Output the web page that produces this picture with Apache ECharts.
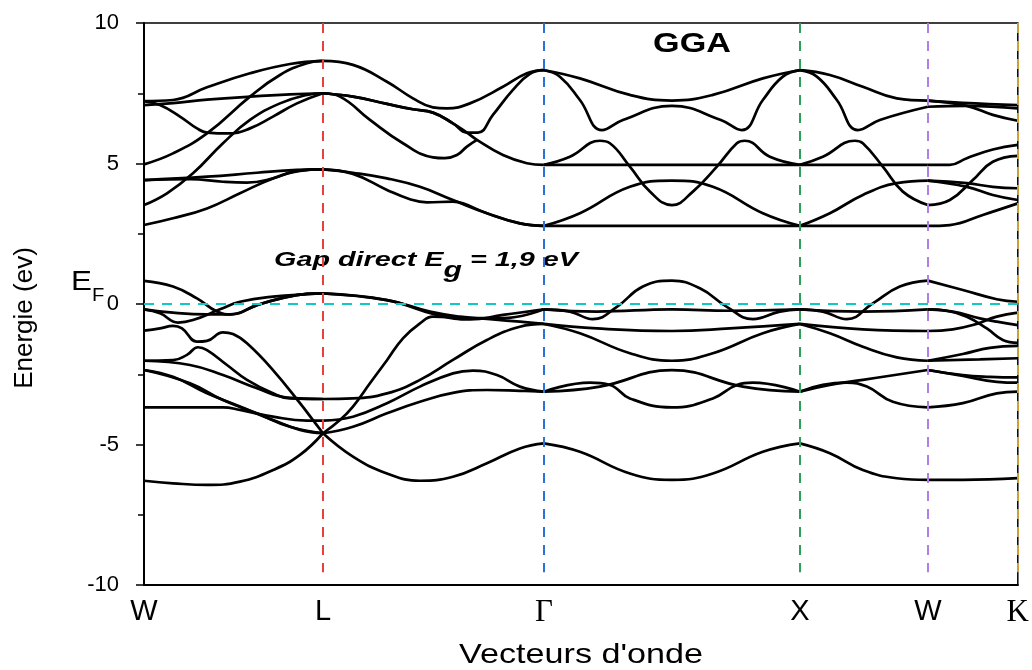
<!DOCTYPE html>
<html>
<head>
<meta charset="utf-8">
<script src="https://cdn.jsdelivr.net/npm/echarts@6/dist/echarts.min.js"></script>
<style>html,body{margin:0;padding:0;background:#fff}#chart{width:1032px;height:670px}</style>
</head>
<body>
<div id="chart"></div>
<script>
// k-path distance (arb. units), high symmetry points
const kTicks = [0, 179, 400, 656, 784, 874];
const kLabels = ['W', 'L', 'Γ', 'X', 'W', 'K'];
const kLineColors = ['#e8403c', '#2a72d8', '#2e9e5b', '#b07fe6', '#c9a13a'];

// conduction bands, segment by segment
const condWL = [
  [[0,7.22],[29,7.26],[63,7.71],[106,8.21],[146,8.54],[179,8.65]],
  [[0,7.08],[29,7.15],[63,7.27],[106,7.38],[146,7.46],[179,7.50]],
  [[0,7.22],[16,7.08],[36,6.67],[53,6.25],[63,6.10],[86,6.07],[106,6.25],[129,6.67],[153,7.14],[179,7.50]],
  [[0,4.97],[29,5.36],[63,6.07],[106,7.38],[136,8.15],[163,8.57],[179,8.65]],
  [[0,3.52],[23,3.94],[49,4.65],[79,5.72],[106,6.55],[136,7.14],[163,7.44],[179,7.50]],
  [[0,4.41],[63,4.53],[113,4.67],[153,4.77],[179,4.79]],
  [[0,4.41],[46,4.44],[79,4.35],[103,4.32],[129,4.47],[153,4.74],[179,4.79]],
  [[0,2.81],[29,3.05],[63,3.40],[96,3.94],[129,4.47],[156,4.74],[179,4.79]]
];
const condLG = [
  [[179,8.65],[209,8.51],[243,7.91],[269,7.32],[289,7.00],[303,6.96],[326,7.14],[359,7.73],[383,8.21],[400,8.32]],
  [[179,7.50],[209,7.38],[243,7.12],[269,6.93],[289,6.81],[309,6.43],[323,6.10],[334,6.10],[349,6.73],[369,7.62],[386,8.19],[400,8.32]],
  [[179,7.50],[209,7.38],[243,7.12],[269,6.93],[289,6.81],[309,6.43],[323,6.10],[333,5.84],[359,5.30],[383,5.01],[400,4.95]],
  [[179,7.50],[196,7.38],[226,6.55],[259,5.72],[289,5.22],[301,5.19],[313,5.30],[323,5.60],[333,5.84]],
  [[179,4.79],[209,4.67],[243,4.47],[276,4.17],[309,3.70],[343,3.23],[376,2.87],[400,2.78]],
  [[179,4.79],[209,4.63],[243,4.06],[266,3.73],[283,3.62],[309,3.64],[319,3.58],[343,3.23],[376,2.87],[400,2.78]]
];
const condGX = [
  [[400,8.32],[436,8.03],[486,7.44],[528,7.24],[569,7.44],[619,8.03],[656,8.32]],
  [[400,8.32],[416,8.09],[436,7.26],[458,6.19],[479,6.55],[528,7.05],[577,6.55],[598,6.19],[619,7.26],[639,8.09],[656,8.32]],
  [[400,4.95],[528,4.95],[656,4.95]],
  [[400,4.95],[426,5.24],[456,5.81],[466,5.72],[486,4.89],[506,4.00],[528,3.52],[549,4.00],[573,4.89],[593,5.72],[601,5.81],[626,5.24],[656,4.95]],
  [[400,2.78],[436,3.23],[486,4.17],[528,4.39],[569,4.17],[619,3.23],[656,2.78]],
  [[400,2.78],[528,2.78],[656,2.78]]
];
const condXW = [
  [[656,8.32],[686,8.15],[719,7.73],[753,7.32],[784,7.24]],
  [[656,8.32],[673,8.09],[693,7.26],[714,6.19],[736,6.55],[784,7.02]],
  [[656,4.95],[784,4.95]],
  [[656,4.95],[679,5.24],[711,5.81],[719,5.72],[739,4.89],[759,4.00],[784,3.52]],
  [[656,2.78],[686,3.23],[719,3.88],[753,4.30],[784,4.39]],
  [[656,2.78],[784,2.78]]
];
const condWK = [
  [[784,7.24],[819,7.16],[874,7.08]],
  [[784,7.24],[823,7.05],[849,6.73],[874,6.52]],
  [[784,7.02],[823,7.05],[874,6.96]],
  [[784,4.95],[806,4.95],[823,5.19],[849,5.50],[874,5.66]],
  [[784,3.52],[806,3.70],[829,4.41],[849,5.06],[874,5.27]],
  [[784,4.39],[823,4.30],[849,4.17],[874,4.12]],
  [[784,4.39],[823,4.17],[849,3.88],[874,3.70]],
  [[784,2.78],[806,2.81],[839,3.17],[874,3.58]]
];

// valence bands
const valWL = [
  [[0,0.82],[29,0.62],[53,0.20],[73,-0.27],[88,-0.37],[113,-0.04],[139,0.22],[163,0.36],[179,0.38]],
  [[0,-0.19],[16,-0.33],[34,-0.66],[49,-0.57],[76,-0.19],[96,0.08],[129,0.26],[179,0.38]],
  [[0,-0.19],[29,-0.31],[63,-0.37],[86,-0.37],[113,-0.04],[139,0.22],[163,0.36],[179,0.38]],
  [[0,-0.95],[16,-0.87],[29,-0.78],[38,-0.87],[53,-1.34],[63,-1.31],[79,-1.01],[89,-1.07],[103,-1.40],[129,-2.35],[156,-3.53],[169,-4.13],[179,-4.60]],
  [[0,-2.02],[29,-2.00],[43,-1.81],[54,-1.54],[63,-1.64],[83,-2.17],[103,-2.70],[129,-3.18],[146,-3.36],[179,-3.38]],
  [[0,-2.02],[46,-2.17],[79,-2.53],[113,-3.00],[143,-3.33],[179,-3.38]],
  [[0,-2.35],[29,-2.59],[63,-3.18],[96,-3.65],[129,-4.13],[156,-4.48],[179,-4.60]],
  [[0,-2.35],[46,-2.82],[79,-3.42],[113,-3.89],[146,-4.37],[179,-4.60]],
  [[0,-3.68],[79,-3.68],[96,-3.77],[129,-4.01],[163,-4.15],[179,-4.15]],
  [[0,-6.29],[29,-6.38],[63,-6.44],[96,-6.32],[129,-5.91],[156,-5.37],[179,-4.60]]
];
const valLG = [
  [[179,0.38],[243,0.14],[293,-0.39],[326,-0.55],[359,-0.39],[400,-0.19]],
  [[179,0.38],[243,0.14],[286,-0.27],[316,-0.45],[349,-0.55],[376,-0.63],[400,-0.71]],
  [[179,-4.60],[196,-4.13],[209,-3.65],[226,-2.82],[243,-2.00],[259,-1.22],[276,-0.69],[289,-0.45],[326,-0.50],[359,-0.50],[400,-0.19]],
  [[179,-3.38],[209,-3.36],[243,-3.18],[276,-2.70],[309,-1.99],[343,-1.28],[376,-0.81],[400,-0.71]],
  [[179,-4.15],[209,-4.01],[243,-3.53],[276,-2.94],[309,-2.47],[329,-2.37],[353,-2.53],[376,-2.94],[400,-3.12]],
  [[179,-4.60],[209,-4.37],[243,-3.89],[276,-3.48],[309,-3.16],[343,-3.06],[376,-3.09],[400,-3.12]],
  [[179,-4.60],[209,-5.43],[243,-6.03],[276,-6.29],[309,-6.15],[343,-5.67],[376,-5.14],[400,-4.96]]
];
const valGX = [
  [[400,-0.19],[426,-0.27],[449,-0.54],[473,-0.10],[499,0.62],[528,0.83],[556,0.56],[583,-0.10],[609,-0.54],[636,-0.27],[656,-0.19]],
  [[400,-0.19],[453,-0.27],[528,-0.19],[586,-0.24],[656,-0.19]],
  [[400,-0.71],[453,-0.87],[528,-0.96],[586,-0.87],[656,-0.71]],
  [[400,-0.71],[436,-1.04],[486,-1.75],[528,-2.02],[569,-1.75],[619,-1.04],[656,-0.71]],
  [[400,-3.12],[456,-2.94],[528,-2.35],[599,-2.94],[656,-3.12]],
  [[400,-3.12],[446,-2.80],[466,-2.88],[486,-3.36],[528,-3.68],[569,-3.36],[593,-2.88],[609,-2.80],[656,-3.12]],
  [[400,-4.96],[436,-5.26],[486,-6.03],[528,-6.26],[569,-6.03],[619,-5.26],[656,-4.96]]
];
const valXW = [
  [[656,-0.19],[679,-0.27],[703,-0.54],[729,0.02],[756,0.62],[784,0.83]],
  [[656,-0.19],[719,-0.27],[784,-0.19]],
  [[656,-0.71],[719,-0.90],[784,-0.96]],
  [[656,-0.71],[686,-1.04],[719,-1.52],[753,-1.90],[784,-2.02]],
  [[656,-3.12],[686,-2.88],[719,-2.70],[784,-2.35]],
  [[656,-3.12],[679,-2.88],[703,-2.80],[723,-2.94],[749,-3.48],[784,-3.68]],
  [[656,-4.96],[686,-5.31],[719,-5.91],[753,-6.20],[784,-6.26]]
];
const valWK = [
  [[784,0.83],[819,0.50],[853,0.17],[874,0.08]],
  [[784,-0.19],[803,-0.24],[823,-0.45],[843,-0.87],[859,-1.28],[874,-1.38]],
  [[784,-0.19],[809,-0.27],[836,-0.51],[853,-0.63],[874,-0.75]],
  [[784,-0.96],[809,-0.90],[829,-0.75],[853,-0.45],[874,-0.31]],
  [[784,-2.02],[819,-1.78],[846,-1.56],[874,-1.49]],
  [[784,-2.02],[836,-1.97],[874,-1.93]],
  [[784,-2.35],[819,-2.53],[846,-2.59],[874,-2.61]],
  [[784,-2.35],[819,-2.56],[853,-2.77],[874,-2.80]],
  [[784,-3.68],[819,-3.53],[853,-3.18],[874,-3.12]],
  [[784,-6.26],[819,-6.26],[874,-6.20]]
];

const chart = echarts.init(document.getElementById('chart'), null, {renderer: 'canvas'});

const series = [];
[condWL, condLG, condGX, condXW, condWK, valWL, valLG, valGX, valXW, valWK].forEach(seg => {
  seg.forEach(band => {
    series.push({
      type: 'line',
      data: band,
      showSymbol: false,
      smooth: 0.45,
      silent: true,
      z: 3,
      lineStyle: {color: '#000', width: 2.7}
    });
  });
});

// dashed guide lines: high symmetry points and Fermi level
const guides = kTicks.slice(1).map((k, i) => ([
  {coord: [k, 10], lineStyle: {color: kLineColors[i]}},
  {coord: [k, -9.55]}
]));
guides.push([
  {coord: [0, 0], lineStyle: {color: '#12c7c7'}},
  {coord: [874, 0]}
]);
series.push({
  type: 'line',
  data: [],
  z: 2,
  markLine: {
    silent: true,
    symbol: ['none', 'none'],
    label: {show: false},
    lineStyle: {type: [10, 8], width: 2},
    data: guides
  }
});

chart.setOption({
  animation: false,
  backgroundColor: '#fff',
  grid: {left: 144, right: 14, top: 23, bottom: 85, show: true, borderColor: '#000', borderWidth: 1.5},
  xAxis: {
    type: 'value',
    min: 0,
    max: 874,
    axisLine: {onZero: false, lineStyle: {color: '#000', width: 2}},
    axisTick: {show: false},
    splitLine: {show: false},
    axisLabel: {
      customValues: kTicks,
      margin: 12,
      color: '#000',
      formatter: v => {
        const t = kLabels[kTicks.indexOf(v)];
        return (t === 'Γ' || t === 'K') ? '{serif|' + t + '}' : '{sans|' + t + '}';
      },
      rich: {
        sans: {fontFamily: 'Liberation Sans', fontSize: 29, color: '#000'},
        serif: {fontFamily: 'Liberation Serif', fontSize: 31, color: '#000'}
      }
    }
  },
  yAxis: {
    type: 'value',
    min: -10,
    max: 10,
    interval: 5,
    axisLine: {show: true, onZero: false, lineStyle: {color: '#000', width: 2}},
    axisTick: {show: true, length: 8, lineStyle: {color: '#000', width: 1.5}},
    minorTick: {show: true, splitNumber: 2, length: 6, lineStyle: {color: '#000', width: 1.5}},
    splitLine: {show: false},
    axisLabel: {color: '#000', fontFamily: 'Liberation Sans', fontSize: 22, margin: 25}
  },
  graphic: [
    {type: 'text', x: 25, y: 318, rotation: Math.PI / 2,
      style: {text: 'Energie (ev)', fontFamily: 'Liberation Sans', fontSize: 26, fill: '#000', align: 'center', verticalAlign: 'middle'}},
    {type: 'text', x: 581, y: 655, scaleX: 1.22,
      style: {text: "Vecteurs d'onde", fontFamily: 'Liberation Sans', fontSize: 28, fill: '#000', align: 'center', verticalAlign: 'middle'}},
    {type: 'text', x: 692, y: 44, scaleX: 1.22,
      style: {text: 'GGA', fontFamily: 'Liberation Sans', fontWeight: 'bold', fontSize: 28, fill: '#000', align: 'center', verticalAlign: 'middle'}},
    {type: 'text', x: 71, y: 259, scaleX: 1.12,
      style: {
        text: '{e|E}{f|F}',
        rich: {
          e: {fontFamily: 'Liberation Sans', fontSize: 28, fill: '#000', verticalAlign: 'middle', lineHeight: 46},
          f: {fontFamily: 'Liberation Sans', fontSize: 18, fill: '#000', verticalAlign: 'bottom', lineHeight: 46}
        }
      }},
    {type: 'text', x: 274, y: 238, scaleX: 1.37,
      style: {
        text: '{a|Gap direct E}{b|g}{a| = 1,9 eV}',
        rich: {
          a: {fontFamily: 'Liberation Sans', fontWeight: 'bold', fontStyle: 'italic', fontSize: 21, fill: '#000', verticalAlign: 'middle', lineHeight: 44},
          b: {fontFamily: 'Liberation Sans', fontWeight: 'bold', fontStyle: 'italic', fontSize: 22, fill: '#000', verticalAlign: 'bottom', lineHeight: 44}
        }
      }}
  ],
  series: series
});
</script>
</body>
</html>
